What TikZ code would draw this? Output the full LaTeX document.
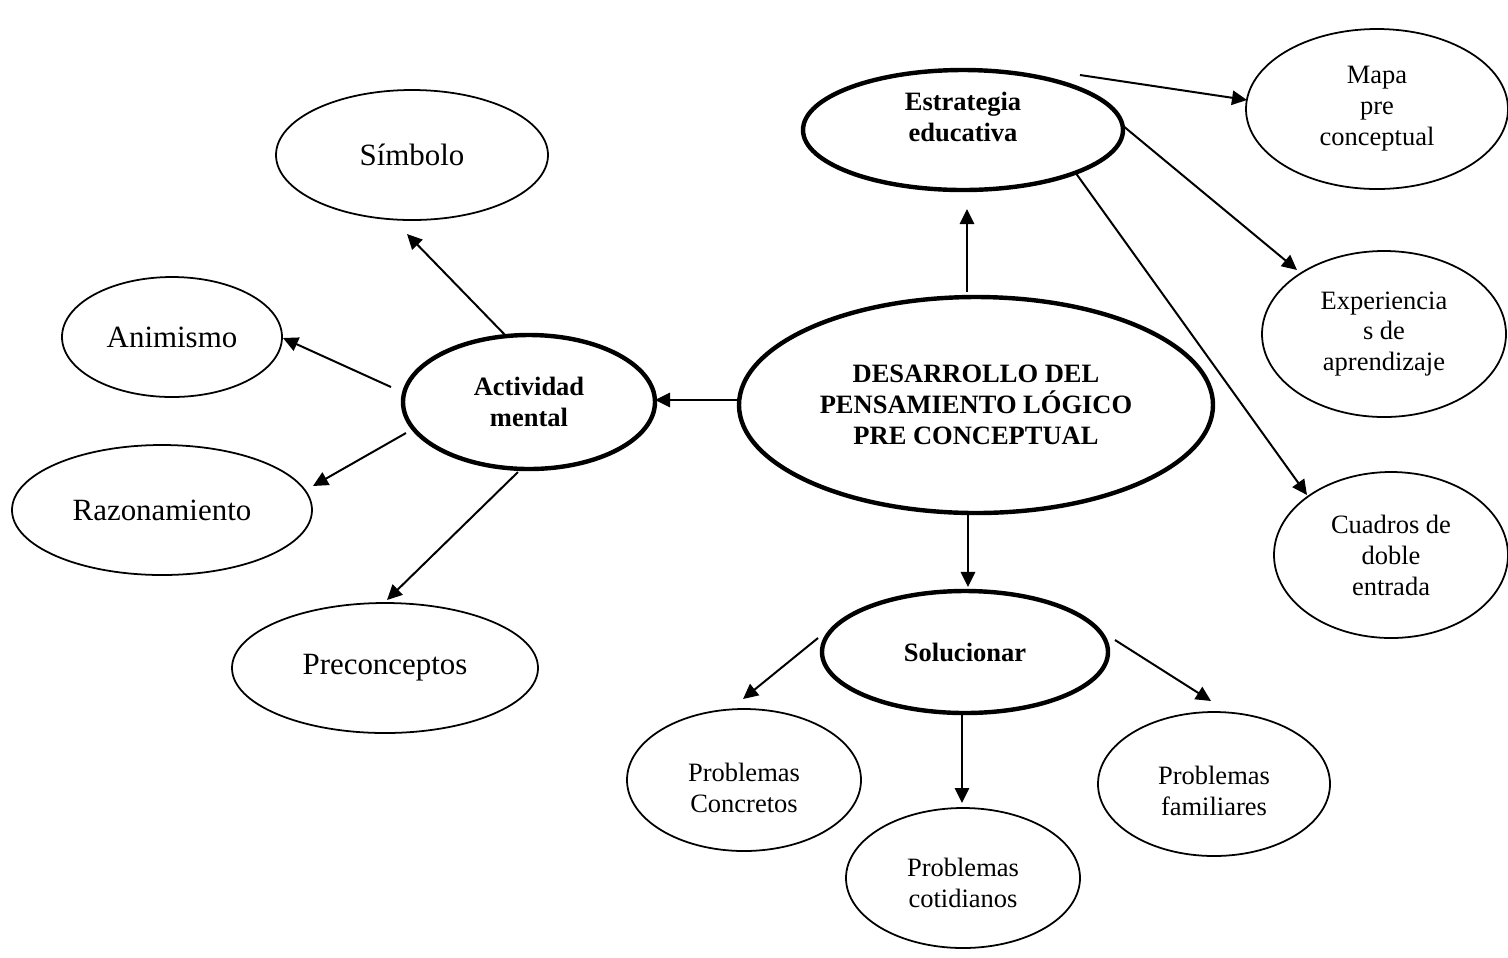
\documentclass[tikz,border=0pt]{standalone}
\usepackage{fontspec}
\setmainfont{Liberation Serif}
\usetikzlibrary{shapes.geometric,arrows.meta}
\begin{document}
\begin{tikzpicture}[x=0.4528pt,y=-0.4528pt,
  ell/.style n args={2}{ellipse,draw,inner sep=0pt,align=center,
    minimum width={2*#1*0.4528pt},minimum height={2*#2*0.4528pt}},
  bigell/.style={line width=2pt,font=\bfseries\fontsize{12}{14}\selectfont},
  smallell/.style={line width=0.8pt,font=\fontsize{12}{14}\selectfont},
  largeell/.style={line width=0.8pt,font=\fontsize{14}{16}\selectfont},
  arr/.style={line width=0.9pt,-{Triangle[length=6.8pt,width=6.5pt]}}]
\useasboundingbox (0,0) rectangle (1508,957);
% main nodes
\node[ell={237}{108},bigell] (cen) at (976,405) {DESARROLLO DEL\\PENSAMIENTO LÓGICO\\PRE CONCEPTUAL};
\node[ell={160}{60},bigell] (est) at (963,130) {Estrategia\\educativa\\[-2pt]\mbox{}};
\node[ell={126}{67},bigell] (act) at (529,402) {Actividad\\mental};
\node[ell={143}{61},bigell] (sol) at (965,652) {Solucionar};
% right side
\node[ell={131}{80},smallell] (map) at (1377,109) {Mapa\\pre\\conceptual};
\node[ell={122}{83},smallell] (exp) at (1384,334) {Experiencia\\s de\\aprendizaje};
\node[ell={117}{83},smallell] (cua) at (1391,555) {Cuadros de\\doble\\entrada};
% bottom
\node[ell={117}{71},smallell] (con) at (744,780) {\mbox{}\\[1.4pt]Problemas\\Concretos};
\node[ell={117}{70},smallell] (cot) at (963,878) {\mbox{}\\[-1.4pt]Problemas\\cotidianos};
\node[ell={116}{72},smallell] (fam) at (1214,784) {\mbox{}\\[0.5pt]Problemas\\familiares};
% left
\node[ell={136}{65},largeell] (sim) at (412,155) {Símbolo};
\node[ell={110}{60},largeell] (ani) at (172,337) {Animismo};
\node[ell={150}{65},largeell] (raz) at (162,510) {Razonamiento};
\node[ell={153}{65},largeell] (pre) at (385,668) {Preconceptos};
% connectors
\draw[arr] ([shift={(-236,-5)}]cen.center) -- ([shift={(126,-2)}]act.center);
\draw[arr] ([shift={(-9,-113)}]cen.center) -- ([shift={(4,79)}]est.center);
\draw[arr] ([shift={(-8,108)}]cen.center) -- ([shift={(3,-65)}]sol.center);
\draw[arr] ([shift={(117,-55)}]est.center) -- ([shift={(-130,-9)}]map.center);
\draw[arr] ([shift={(159,-5)}]est.center) -- ([shift={(-87,-64)}]exp.center);
\draw[arr] ([shift={(112,42)}]est.center) -- ([shift={(-84,-60)}]cua.center);
\draw[arr] ([shift={(-22,-65)}]act.center) -- ([shift={(-5,79)}]sim.center);
\draw[arr] ([shift={(-138,-15)}]act.center) -- ([shift={(111,1)}]ani.center);
\draw[arr] ([shift={(-123,31)}]act.center) -- ([shift={(151,-24)}]raz.center);
\draw[arr] ([shift={(-11,70)}]act.center) -- ([shift={(2,-68)}]pre.center);
\draw[arr] ([shift={(-147,-14)}]sol.center) -- ([shift={(-1,-81)}]con.center);
\draw[arr] ([shift={(-3,63)}]sol.center) -- ([shift={(-1,-75)}]cot.center);
\draw[arr] ([shift={(150,-12)}]sol.center) -- ([shift={(-3,-83)}]fam.center);
\end{tikzpicture}
\end{document}
